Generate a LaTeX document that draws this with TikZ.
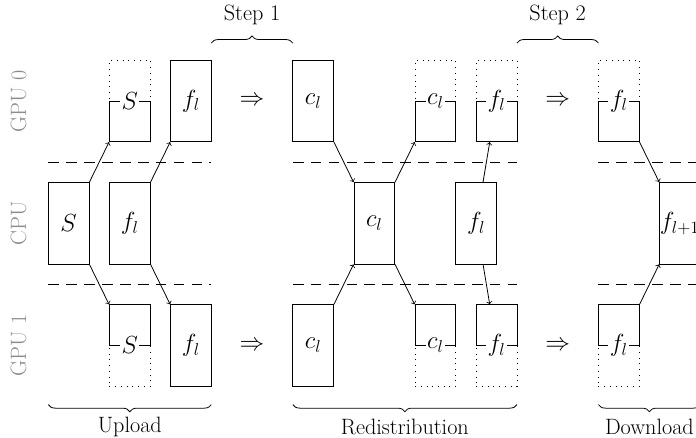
\documentclass[tikz,border=0pt]{standalone}
\usetikzlibrary{decorations.pathreplacing}
\begin{document}
\begin{tikzpicture}[x=1cm,y=1cm, line width=0.55pt,
  fullbox/.style={draw, minimum width=1cm, minimum height=2cm, inner sep=0pt, font=\LARGE},
  halfbox/.style={draw, minimum width=1cm, minimum height=1cm, inner sep=0pt},
  ghostbox/.style={draw, dash pattern=on 0.5pt off 3.5pt, minimum width=1cm, minimum height=2cm, inner sep=0pt},
  tag/.style={fill=white, inner sep=1pt, font=\LARGE},
  sep/.style={dash pattern=on 7.5pt off 5pt},
  devlabel/.style={rotate=90, text=black!45, font=\fontsize{15.5}{18}\selectfont},
  bracedeco/.style={decorate, decoration={brace, amplitude=5pt}},
  phaselabel/.style={font=\fontsize{15.5}{18}\selectfont},
  goes/.style={font=\LARGE}]
\useasboundingbox (-1.185,-1.257) rectangle (15.894,9.478);
\clip (-1.185,-1.257) rectangle (15.894,9.478);

% device rows
\node[devlabel] (lg0) at (-0.73,7) {GPU 0};
\node[devlabel] (lcpu) at (-0.73,4) {CPU};
\node[devlabel] (lg1) at (-0.73,1) {GPU 1};

% separators between devices
\foreach \y in {5.5,2.5} {
  \draw[sep] (0,\y) -- (4,\y);
  \draw[sep] (6,\y) -- (11.5,\y);
  \draw[sep] (13.5,\y) -- (16.5,\y);
}

% ---- Upload ----
\node[fullbox] (cS) at (0.5,4) {$S$};
\node[fullbox] (cF) at (2,4) {$f_l$};
\node[ghostbox] (g0Sd) at (2,7) {};
\node[halfbox] (g0S) at (2,6.5) {};
\node[tag] (g0St) at (2,7) {$S$};
\node[fullbox] (g0F) at (3.5,7) {$f_l$};
\node[ghostbox] (g1Sd) at (2,1) {};
\node[halfbox] (g1S) at (2,1.5) {};
\node[tag] (g1St) at (2,1) {$S$};
\node[fullbox] (g1F) at (3.5,1) {$f_l$};
\draw[->] (cS.north east) -- (g0S.south west);
\draw[->] (cF.north east) -- (g0F.south west);
\draw[->] (cS.south east) -- (g1S.north west);
\draw[->] (cF.south east) -- (g1F.north west);

\node[goes] (imp1a) at (5,7) {$\Rightarrow$};
\node[goes] (imp1b) at (5,1) {$\Rightarrow$};

% ---- Redistribution ----
\node[fullbox] (g0C) at (6.5,7) {$c_l$};
\node[fullbox] (g1C) at (6.5,1) {$c_l$};
\node[fullbox] (cC) at (8,4) {$c_l$};
\node[ghostbox] (g0Cd) at (9.5,7) {};
\node[halfbox] (g0C2) at (9.5,6.5) {};
\node[tag] (g0C2t) at (9.5,7) {$c_l$};
\node[ghostbox] (g1Cd) at (9.5,1) {};
\node[halfbox] (g1C2) at (9.5,1.5) {};
\node[tag] (g1C2t) at (9.5,1) {$c_l$};
\node[fullbox] (cF2) at (10.5,4) {$f_l$};
\node[ghostbox] (g0F2d) at (11,7) {};
\node[halfbox] (g0F2) at (11,6.5) {};
\node[tag] (g0F2t) at (11,7) {$f_l$};
\node[ghostbox] (g1F2d) at (11,1) {};
\node[halfbox] (g1F2) at (11,1.5) {};
\node[tag] (g1F2t) at (11,1) {$f_l$};
\draw[->] (g0C.south east) -- (cC.north west);
\draw[->] (g1C.north east) -- (cC.south west);
\draw[->] (cC.north east) -- (g0C2.south west);
\draw[->] (cC.south east) -- (g1C2.north west);
\draw[->] (cF2) -- (g0F2d);
\draw[->] (cF2) -- (g1F2d);

\node[goes] (imp2a) at (12.5,7) {$\Rightarrow$};
\node[goes] (imp2b) at (12.5,1) {$\Rightarrow$};

% ---- Download ----
\node[ghostbox] (g0F3d) at (14,7) {};
\node[halfbox] (g0F3) at (14,6.5) {};
\node[tag] (g0F3t) at (14,7) {$f_l$};
\node[ghostbox] (g1F3d) at (14,1) {};
\node[halfbox] (g1F3) at (14,1.5) {};
\node[tag] (g1F3t) at (14,1) {$f_l$};
\node[fullbox] (cF3) at (15.5,4) {};
\node[font=\LARGE, anchor=west, inner sep=0pt] (cF3t) at (15.0,4) {$f_{l+1}$};
\draw[->] (g0F3.south east) -- (cF3.north west);
\draw[->] (g1F3.north east) -- (cF3.south west);

% ---- step braces ----
\draw[bracedeco] (4,8.42) -- (6,8.42);
\node[phaselabel] (st1) at (5,9.1) {Step 1};
\draw[bracedeco] (11.5,8.42) -- (13.5,8.42);
\node[phaselabel] (st2) at (12.5,9.1) {Step 2};

% ---- phase braces ----
\draw[bracedeco] (4,-0.45) -- (0,-0.45);
\node[phaselabel] (ph1) at (2,-1.0) {Upload};
\draw[bracedeco] (11.5,-0.45) -- (6,-0.45);
\node[phaselabel] (ph2) at (8.75,-1.0) {Redistribution};
\draw[bracedeco] (16,-0.45) -- (13.5,-0.45);
\node[phaselabel] (ph3) at (14.75,-1.0) {Download};
\end{tikzpicture}
\end{document}
